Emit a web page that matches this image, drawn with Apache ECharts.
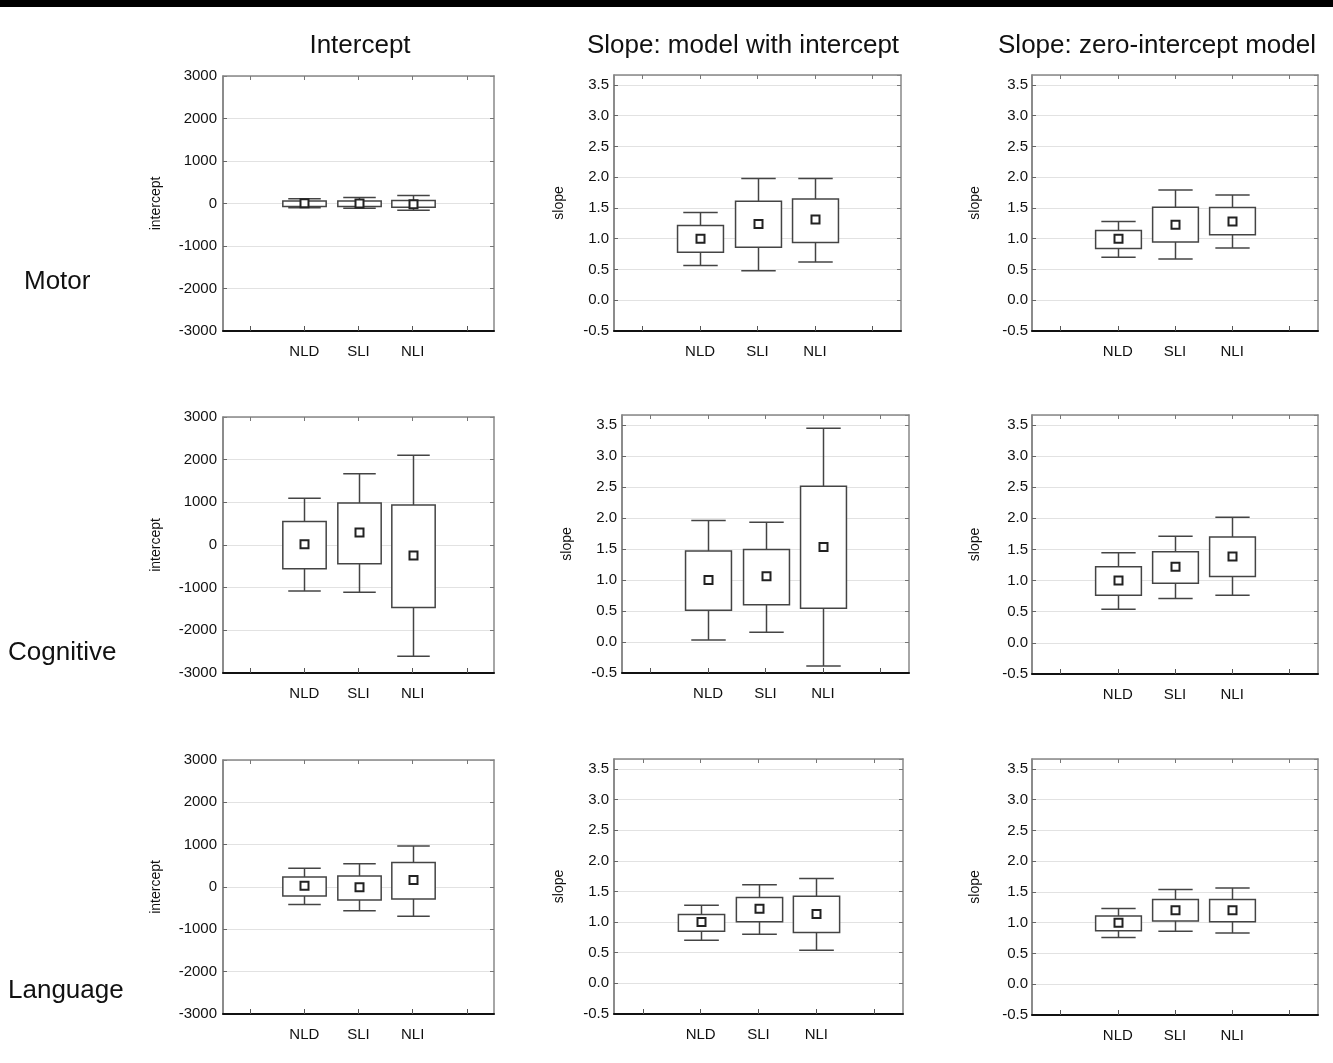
<!DOCTYPE html>
<html>
<head>
<meta charset="utf-8">
<script src="https://cdn.jsdelivr.net/npm/echarts@6/dist/echarts.min.js"></script>
<style>html,body{margin:0;padding:0;background:#fff}#c{width:1333px;height:1063px}</style>
</head>
<body>
<div id="c"></div>
<script>
// ---------- DATA ----------
const groups = ['NLD', 'SLI', 'NLI'];
const xCategories = ['', 'NLD', 'SLI', 'NLI', ' '];
const rowLabels = ['Motor', 'Cognitive', 'Language'];
const columnTitles = ['Intercept', 'Slope: model with intercept', 'Slope: zero-intercept model'];
const yAxisNames = ['intercept', 'slope', 'slope'];
// each group: [lower whisker, box low, mean, box high, upper whisker]
const motorIntercept = [[-100, -70, 5, 60, 110], [-110, -70, 0, 60, 140], [-160, -90, -20, 70, 190]];
const motorSlopeWithIntercept = [[0.565, 0.78, 1.0, 1.215, 1.425], [0.48, 0.86, 1.24, 1.61, 1.98], [0.62, 0.94, 1.31, 1.645, 1.98]];
const motorSlopeZero = [[0.70, 0.84, 1.0, 1.135, 1.28], [0.67, 0.946, 1.225, 1.51, 1.79], [0.85, 1.065, 1.28, 1.505, 1.71]];
const cognitiveIntercept = [[-1079, -559, 16, 551, 1094], [-1110, -441, 291, 984, 1669], [-2606, -1465, -244, 937, 2102]];
const cognitiveSlopeWithIntercept = [[0.033, 0.51, 1.0, 1.467, 1.957], [0.157, 0.60, 1.06, 1.49, 1.93], [-0.386, 0.543, 1.53, 2.51, 3.445]];
const cognitiveSlopeZero = [[0.538, 0.766, 1.0, 1.223, 1.446], [0.712, 0.957, 1.223, 1.462, 1.712], [0.766, 1.065, 1.386, 1.70, 2.016]];
const languageIntercept = [[-414, -211, 31, 234, 445], [-563, -305, -8, 258, 547], [-688, -281, 164, 578, 969]];
const languageSlopeWithIntercept = [[0.704, 0.85, 1.0, 1.124, 1.274], [0.80, 1.005, 1.215, 1.40, 1.61], [0.538, 0.828, 1.13, 1.42, 1.71]];
const languageSlopeZero = [[0.758, 0.871, 1.0, 1.108, 1.231], [0.86, 1.027, 1.204, 1.376, 1.538], [0.833, 1.016, 1.204, 1.376, 1.565]];
const interceptRange = { min: -3000, max: 3000, interval: 1000 };
const slopeRange = { min: -0.5, max: 3.66, interval: 0.5 };

const panelData = [
  [motorIntercept, motorSlopeWithIntercept, motorSlopeZero],
  [cognitiveIntercept, cognitiveSlopeWithIntercept, cognitiveSlopeZero],
  [languageIntercept, languageSlopeWithIntercept, languageSlopeZero]
];

// ---------- LAYOUT ----------
const gridBoxes = [
  [[223, 76, 271, 255], [614, 75, 287, 256], [1032, 75, 286, 256]],
  [[223, 417, 271, 256], [622, 415, 287, 258], [1032, 415, 286, 259]],
  [[223, 760, 271, 254], [614, 759, 289, 255], [1032, 759, 286, 256]]
];
const nameGaps = [60, 48, 50];
const labelMargins = [6, 5, 4];
const FONT = '"Liberation Sans", Arial, sans-serif';

const chart = echarts.init(document.getElementById('c'));

function renderBox(params, api) {
  const xi = api.value(0);
  const wl = api.coord([xi, api.value(1)]);
  const bl = api.coord([xi, api.value(2)]);
  const mn = api.coord([xi, api.value(3)]);
  const bh = api.coord([xi, api.value(4)]);
  const wh = api.coord([xi, api.value(5)]);
  const catW = api.size([1, 0])[0];
  const bw = catW * 0.8, cw = catW * 0.6, ms = 8;
  const x = Math.round(wl[0]) + 0.5;
  const st = { stroke: '#444', lineWidth: 1.5, fill: null };
  return {
    type: 'group',
    children: [
      { type: 'line', shape: { x1: x, y1: wl[1], x2: x, y2: bl[1] }, style: st },
      { type: 'line', shape: { x1: x, y1: bh[1], x2: x, y2: wh[1] }, style: st },
      { type: 'line', shape: { x1: x - cw / 2, y1: wl[1], x2: x + cw / 2, y2: wl[1] }, style: st },
      { type: 'line', shape: { x1: x - cw / 2, y1: wh[1], x2: x + cw / 2, y2: wh[1] }, style: st },
      { type: 'rect', shape: { x: x - bw / 2, y: bh[1], width: bw, height: bl[1] - bh[1] },
        style: { stroke: '#444', lineWidth: 1.5, fill: '#fff' } },
      { type: 'rect', shape: { x: x - ms / 2, y: mn[1] - ms / 2, width: ms, height: ms },
        style: { stroke: '#222', lineWidth: 2, fill: '#fff' } }
    ]
  };
}

const grids = [], xAxes = [], yAxes = [], series = [];
let k = 0;
for (let r = 0; r < 3; r++) {
  for (let c = 0; c < 3; c++) {
    const [l, t, w, h] = gridBoxes[r][c];
    grids.push({ left: l, top: t, width: w, height: h, containLabel: false });
    const rng = c === 0 ? interceptRange : slopeRange;
    xAxes.push({
      type: 'category', gridIndex: k, data: xCategories, boundaryGap: true, position: 'bottom',
      axisLine: { onZero: false, lineStyle: { color: '#111', width: 2 } },
      axisTick: { show: true, inside: true, alignWithLabel: true, interval: 0, length: 5, lineStyle: { color: '#555', width: 1 } },
      axisLabel: { interval: 0, margin: 13, fontFamily: FONT, fontSize: 15, color: '#111' },
      splitLine: { show: false }, z: 5
    });
    xAxes.push({
      type: 'category', gridIndex: k, data: xCategories, boundaryGap: true, position: 'top',
      axisLine: { onZero: false, lineStyle: { color: '#888', width: 1.5 } },
      axisTick: { show: true, inside: true, alignWithLabel: true, interval: 0, length: 4, lineStyle: { color: '#777', width: 1 } },
      axisLabel: { show: false }, splitLine: { show: false }, z: 5
    });
    yAxes.push({
      type: 'value', gridIndex: k, position: 'left', min: rng.min, max: rng.max, interval: rng.interval,
      name: yAxisNames[c], nameLocation: 'middle', nameRotate: 90, nameGap: nameGaps[c],
      nameTextStyle: { fontFamily: FONT, fontSize: 14, color: '#111' },
      axisLine: { show: true, onZero: false, lineStyle: { color: '#666', width: 1.5 } },
      axisTick: { show: true, inside: true, length: 4, lineStyle: { color: '#666' } },
      axisLabel: { margin: labelMargins[c], fontFamily: FONT, fontSize: 15, color: '#111',
        showMaxLabel: c === 0, formatter: v => (c === 0 ? String(v) : v.toFixed(1)) },
      splitLine: { show: true, lineStyle: { color: '#e2e2e2', width: 1 } }
    });
    yAxes.push({
      type: 'value', gridIndex: k, position: 'right', min: rng.min, max: rng.max, interval: rng.interval,
      axisLine: { show: true, onZero: false, lineStyle: { color: '#888', width: 1.5 } },
      axisTick: { show: true, inside: true, length: 4, lineStyle: { color: '#777' } },
      axisLabel: { show: false }, splitLine: { show: false }
    });
    const arr = panelData[r][c];
    series.push({
      type: 'custom', xAxisIndex: 2 * k, yAxisIndex: 2 * k,
      encode: { x: 0, y: [1, 2, 3, 4, 5] },
      renderItem: renderBox,
      data: groups.map((g, i) => [i + 1].concat(arr[i])),
      silent: true, animation: false
    });
    k++;
  }
}

const titleX = [360, 743, 1157];
const rowY = [282, 653, 991];
const rowX = [24, 8, 8];
const graphics = [
  { type: 'rect', shape: { x: 0, y: 0, width: 1333, height: 7 }, style: { fill: '#000' } }
];
columnTitles.forEach((t, i) => graphics.push({
  type: 'text', x: titleX[i], y: 46,
  style: { text: t, font: '26px ' + FONT, fill: '#111', textAlign: 'center', textVerticalAlign: 'middle' }
}));
rowLabels.forEach((t, i) => graphics.push({
  type: 'text', x: rowX[i], y: rowY[i],
  style: { text: t, font: '26px ' + FONT, fill: '#111', textAlign: 'left', textVerticalAlign: 'middle' }
}));

chart.setOption({
  animation: false,
  backgroundColor: '#fff',
  grid: grids, xAxis: xAxes, yAxis: yAxes, series: series,
  graphic: graphics
});
</script>
</body>
</html>
